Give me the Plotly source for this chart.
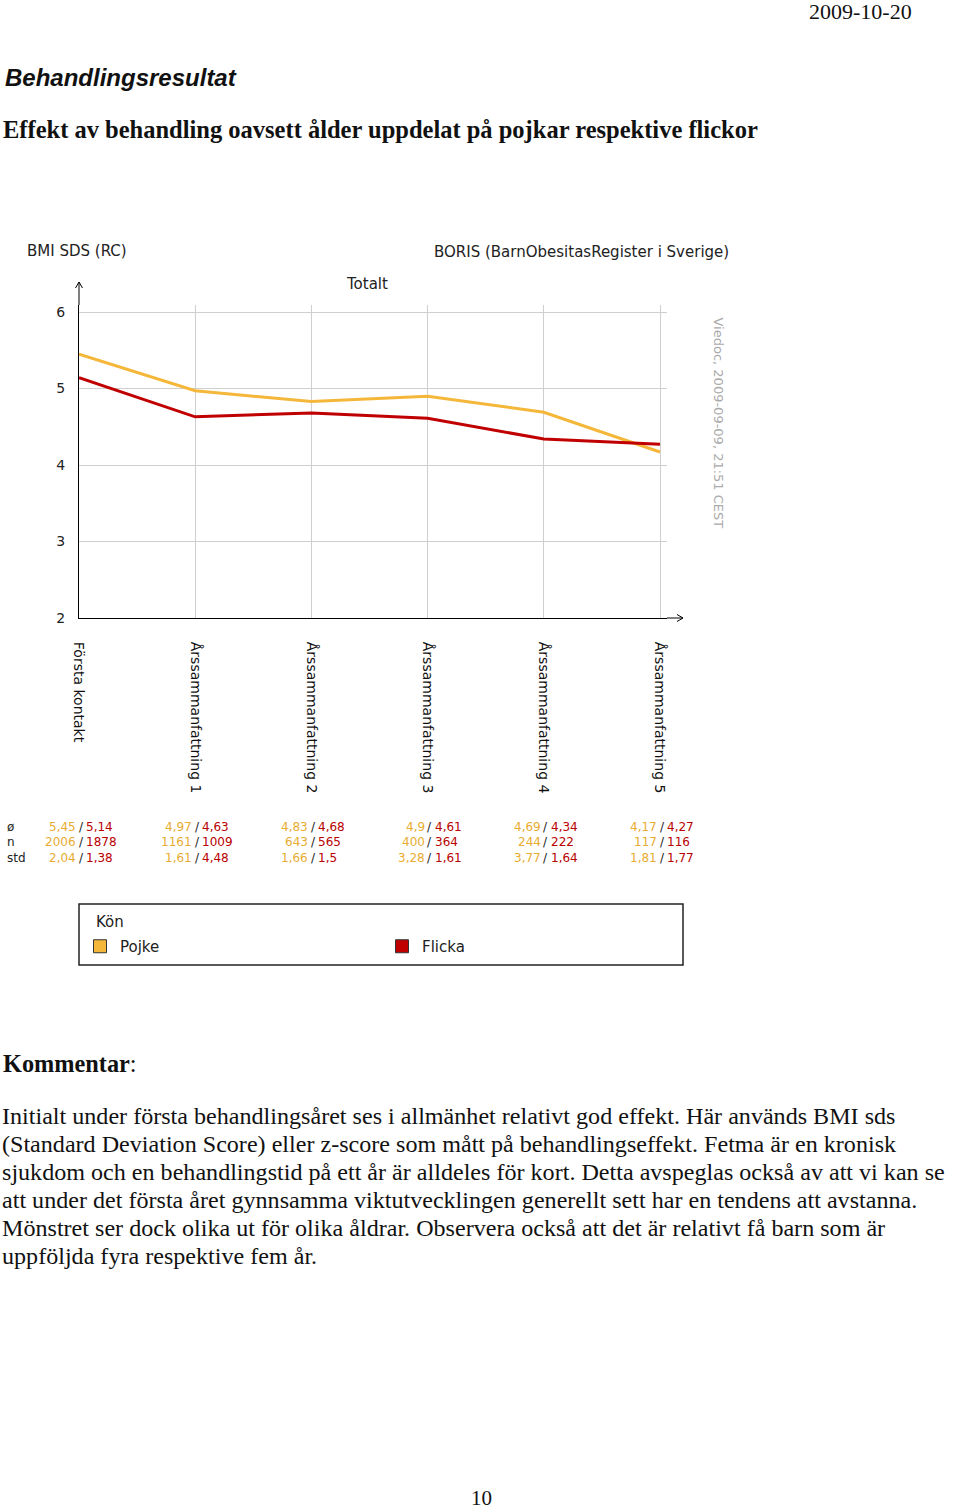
import plotly.graph_objects as go

# ---------------- data ----------------
categories = ["Första kontakt", "Årssammanfattning 1", "Årssammanfattning 2",
              "Årssammanfattning 3", "Årssammanfattning 4", "Årssammanfattning 5"]
pojke_mean = [5.45, 4.97, 4.83, 4.9, 4.69, 4.17]
flicka_mean = [5.14, 4.63, 4.68, 4.61, 4.34, 4.27]
pojke_n = [2006, 1161, 643, 400, 244, 117]
flicka_n = [1878, 1009, 565, 364, 222, 116]
pojke_std = [2.04, 1.61, 1.66, 3.28, 3.77, 1.81]
flicka_std = [1.38, 4.48, 1.5, 1.61, 1.64, 1.77]
y_ticks = [2, 3, 4, 5, 6]
row_labels = ["ø", "n", "std"]

paragraph = [
    "Initialt under första behandlingsåret ses i allmänhet relativt god effekt. Här används BMI sds",
    "(Standard Deviation Score) eller z-score som mått på behandlingseffekt. Fetma är en kronisk",
    "sjukdom och en behandlingstid på ett år är alldeles för kort. Detta avspeglas också av att vi kan se",
    "att under det första året gynnsamma viktutvecklingen generellt sett har en tendens att avstanna.",
    "Mönstret ser dock olika ut för olika åldrar. Observera också att det är relativt få barn som är",
    "uppföljda fyra respektive fem år.",
]

# ---------------- layout helpers ----------------
W, H = 960, 1512
def px(x): return x / W
def py(y): return 1 - y / H

YEL = "#F4B73A"
RED = "#C00000"
YEL_TXT = "#E8AC30"
RED_TXT = "#B80000"
SANS = "DejaVu Sans"
SERIF = "Liberation Serif"

X0, X5 = 79, 660
step = (X5 - X0) / 5
x_right = 667
y_bot, y_top = 618, 305
unit = (618 - 312) / 4
xr = [0, (x_right - X0) / step]
yr = [2, 2 + (y_bot - y_top) / unit]

xs = list(range(len(categories)))

fig = go.Figure()
fig.add_trace(go.Scatter(x=xs, y=pojke_mean, mode="lines", name="Pojke",
                         line=dict(color=YEL, width=3), showlegend=False))
fig.add_trace(go.Scatter(x=xs, y=flicka_mean, mode="lines", name="Flicka",
                         line=dict(color=RED, width=3), showlegend=False))
# legend entries (square swatches)
fig.add_trace(go.Scatter(x=[None], y=[None], mode="markers", name="Pojke",
                         marker=dict(symbol="square", size=13, color=YEL,
                                     line=dict(color="#333", width=1))))
fig.add_trace(go.Scatter(x=[None], y=[None], mode="markers", name="Flicka",
                         marker=dict(symbol="square", size=13, color=RED,
                                     line=dict(color="#333", width=1))))

annotations = []
def txt(text, x, y, size=14, color="#222", family=SANS, xanchor="left",
        yanchor="middle", angle=0, xref="paper", xshift=0):
    annotations.append(dict(text=text, x=x, y=y, xref=xref, yref="paper",
                            showarrow=False, xanchor=xanchor, yanchor=yanchor,
                            textangle=angle, xshift=xshift,
                            font=dict(size=size, color=color, family=family)))

# page texts
txt("2009-10-20", px(914), py(11), size=22, color="#111", family=SERIF, xanchor="right")
txt("<b><i>Behandlingsresultat</i></b>", px(3), py(77), size=24, color="#111",
    family="Liberation Sans")
txt("<b>Effekt av behandling oavsett ålder uppdelat på pojkar respektive flickor</b>",
    px(1), py(130), size=24.5, color="#111", family=SERIF)
txt("<b>Kommentar</b>:", px(1), py(1063), size=24.3, color="#111", family=SERIF)
for i, line in enumerate(paragraph):
    txt(line, px(0), py(1116 + 28 * i), size=24.1, color="#111", family=SERIF)
txt("10", px(481), 0, size=21, color="#111", family=SERIF, xanchor="center",
    yanchor="bottom")

# chart texts
txt("BMI SDS (RC)", px(25), py(251), size=15)
txt("BORIS (BarnObesitasRegister i Sverige)", px(432), py(252), size=15)
txt("Totalt", px(367), py(284), size=15, xanchor="center")
txt("Viedoc, 2009-09-09, 21:51 CEST", px(718), py(315), size=13, color="#aaaaaa",
    xanchor="center", yanchor="top", angle=90)

# legend title
txt("Kön", px(94), py(922), size=15)

# data table
rows_y = [827, 842, 858]
for j, lab in enumerate(row_labels):
    txt(lab, px(5), py(rows_y[j]), size=12)

def fmt(v):
    return str(v).replace(".", ",")

for i in xs:
    vals = [(fmt(pojke_mean[i]), fmt(flicka_mean[i])),
            (str(pojke_n[i]), str(flicka_n[i])),
            (fmt(pojke_std[i]), fmt(flicka_std[i]))]
    for j, (a, b) in enumerate(vals):
        txt(a, i, py(rows_y[j]), size=12, color=YEL_TXT, xanchor="right",
            xref="x", xshift=-1)
        txt("/", i, py(rows_y[j]), size=12, color="#222", xanchor="center",
            xref="x", xshift=2)
        txt(b, i, py(rows_y[j]), size=12, color=RED_TXT, xanchor="left",
            xref="x", xshift=5)

# shapes: axis extensions with arrows, legend box
shapes = []
def seg(x0, y0, x1, y1, color="#000", width=1):
    shapes.append(dict(type="line", xref="paper", yref="paper",
                       x0=px(x0), y0=py(y0), x1=px(x1), y1=py(y1),
                       line=dict(color=color, width=width)))
seg(X0, y_top, X0, 282)
seg(75.5, 288, X0, 282)
seg(82.5, 288, X0, 282)
seg(x_right, y_bot, 683, y_bot)
seg(677, 614.5, 683, y_bot)
seg(677, 621.5, 683, y_bot)
shapes.append(dict(type="rect", xref="paper", yref="paper",
                   x0=px(79), x1=px(683), y0=py(904), y1=py(965),
                   line=dict(color="#222", width=1.5)))

fig.update_layout(
    width=W, height=H, autosize=False,
    margin=dict(l=0, r=0, t=0, b=0, pad=0, autoexpand=False),
    paper_bgcolor="white", plot_bgcolor="white",
    font=dict(family=SANS, size=14, color="#222"),
    showlegend=True,
    legend=dict(orientation="h", x=px(80), y=py(930), xanchor="left", yanchor="top",
                font=dict(size=15, color="#222"),
                entrywidth=257, entrywidthmode="pixels",
                bgcolor="rgba(0,0,0,0)", borderwidth=0, itemclick=False,
                itemdoubleclick=False),
    xaxis=dict(domain=[px(X0), px(x_right)], range=xr, tickmode="array",
               tickvals=xs, ticktext=categories, tickangle=90,
               tickfont=dict(size=14, color="#111"), ticks="",
               ticklabelstandoff=20, automargin=False,
               showgrid=True, gridcolor="#cfcfcf", gridwidth=1,
               showline=True, linecolor="#000", linewidth=1, zeroline=False,
               fixedrange=True),
    yaxis=dict(domain=[py(y_bot), py(y_top)], range=yr, tickmode="array",
               tickvals=y_ticks, ticktext=[str(v) for v in y_ticks],
               tickfont=dict(size=14, color="#222"), ticks="",
               ticklabelstandoff=10, automargin=False,
               showgrid=True, gridcolor="#cfcfcf", gridwidth=1,
               showline=True, linecolor="#000", linewidth=1, zeroline=False,
               fixedrange=True),
    annotations=annotations,
    shapes=shapes,
)

fig.write_html("out.html", config={"displayModeBar": False},
               post_script="document.documentElement.style.overflow='hidden';"
                           "document.body.style.margin='0';"
                           "document.body.style.overflow='hidden';")
